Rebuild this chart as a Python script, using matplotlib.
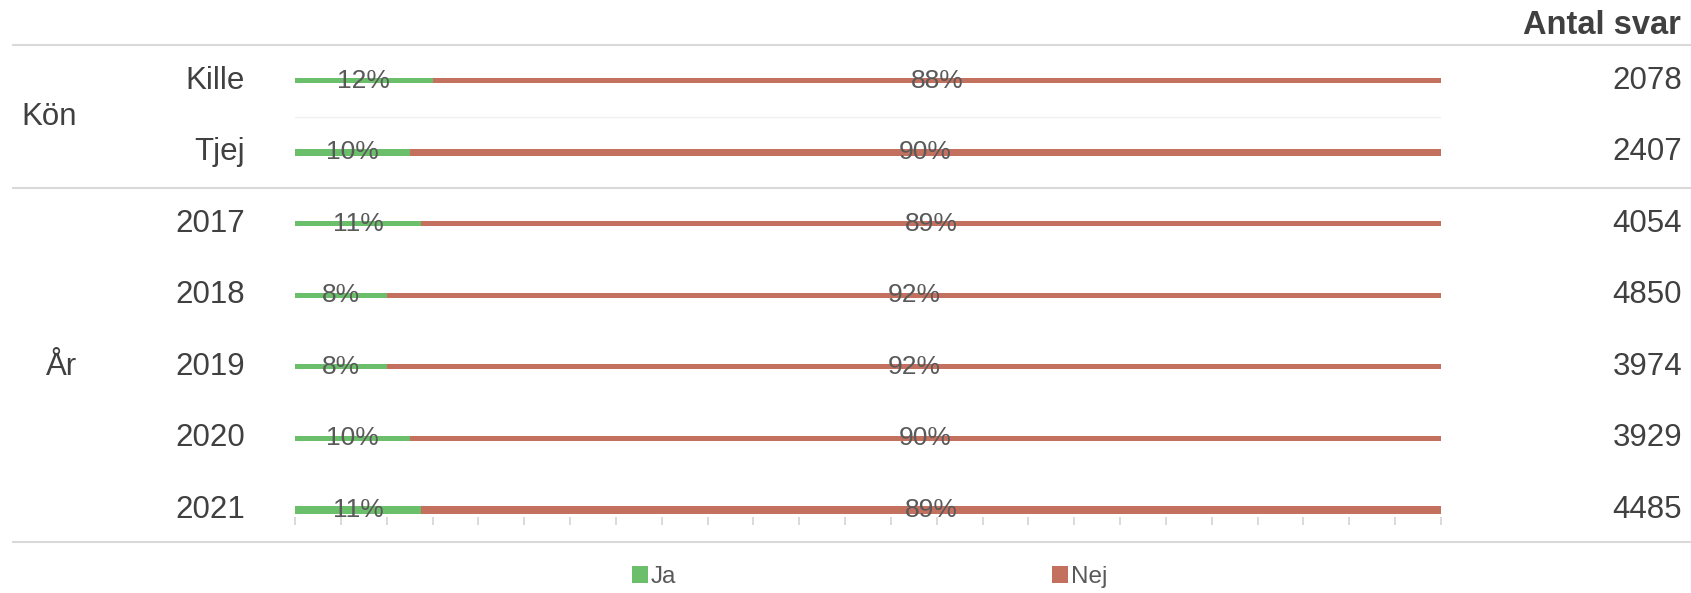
import matplotlib
matplotlib.use("Agg")
import matplotlib.pyplot as plt
from matplotlib.transforms import blended_transform_factory
from matplotlib.lines import Line2D
from matplotlib.patches import Patch
import numpy as np

plt.rcParams['font.family'] = ['Liberation Sans', 'DejaVu Sans']

# ---- data ----
groups = ["Kön", "År"]
categories = ["Kille", "Tjej", "2017", "2018", "2019", "2020", "2021"]
ja = [12, 10, 11, 8, 8, 10, 11]
nej = [88, 90, 89, 92, 92, 90, 89]
antal_svar = [2078, 2407, 4054, 4850, 3974, 3929, 4485]
series_names = ["Ja", "Nej"]

# ---- styles ----
GREEN = "#6cbf6a"
RED = "#c4705f"
TXT = "#404040"
LBL = "#595959"
LINE = "#d9d9d9"
bar_heights = [0.07, 0.105, 0.07, 0.07, 0.07, 0.07, 0.11]

W, H = 1691, 593
fig = plt.figure(figsize=(W / 100, H / 100), dpi=100)

def fx(px):
    return px / W

def fy(py):
    return 1 - py / H

ax = fig.add_axes([fx(295), fy(542), fx(1441) - fx(295), fy(45) - fy(542)])
rows = np.arange(len(categories))
ax.barh(rows, ja, height=bar_heights, color=GREEN, linewidth=0)
ax.barh(rows, nej, left=ja, height=bar_heights, color=RED, linewidth=0)
ax.set_xlim(0, 100)
ax.set_ylim(6.45, -0.5)

for sp in ax.spines.values():
    sp.set_visible(False)
ax.spines['bottom'].set_position(('data', 6.1))
ax.set_xticks(np.arange(0, 101, 4))
ax.set_xticklabels([])
ax.tick_params(axis='x', direction='out', length=6, width=1.2, color="#d4d4d4")
ax.set_yticks([])

# percent labels
for i in rows:
    ax.text(ja[i] / 2, i, f"{ja[i]}%", ha="center", va="center",
            fontsize=19, color=LBL)
    ax.text(ja[i] + nej[i] / 2, i, f"{nej[i]}%", ha="center", va="center",
            fontsize=19, color=LBL)

# faint separator inside Kön group
ax.axhline(0.5, color="#f0f0f0", linewidth=1)

tr = blended_transform_factory(fig.transFigure, ax.transData)

# category labels and counts
for i in rows:
    fig.text(fx(245), i, categories[i], transform=tr, ha="right", va="center",
             fontsize=22.5, color=TXT)
    fig.text(fx(1682), i, str(antal_svar[i]), transform=tr, ha="right",
             va="center", fontsize=22.5, color=TXT)

# group labels
fig.text(fx(21), 0.5, groups[0], transform=tr, ha="left", va="center",
         fontsize=22.5, color=TXT)
fig.text(fx(46), 4.0, groups[1], transform=tr, ha="left", va="center",
         fontsize=22.5, color=TXT)

# header
fig.text(fx(1681), fy(26), "Antal svar", ha="right", va="center",
         fontsize=23.5, fontweight="bold", color=TXT)

# horizontal table lines
for yv in [-0.5, 1.5, 6.45]:
    fig.add_artist(Line2D([fx(13), 1.0], [yv, yv], transform=tr,
                          color=LINE, linewidth=1.5))

# legend
for name, col, xpx in [(series_names[0], GREEN, 632), (series_names[1], RED, 1052)]:
    fig.legend(handles=[Patch(facecolor=col, edgecolor='none')], labels=[name],
               loc="center left", bbox_to_anchor=(fx(xpx), fy(577)),
               frameon=False, borderpad=0, borderaxespad=0, fontsize=17.5,
               handlelength=0.65, handleheight=0.65, handletextpad=0.12,
               labelcolor=LBL)

fig.savefig("out.png", dpi=100)
